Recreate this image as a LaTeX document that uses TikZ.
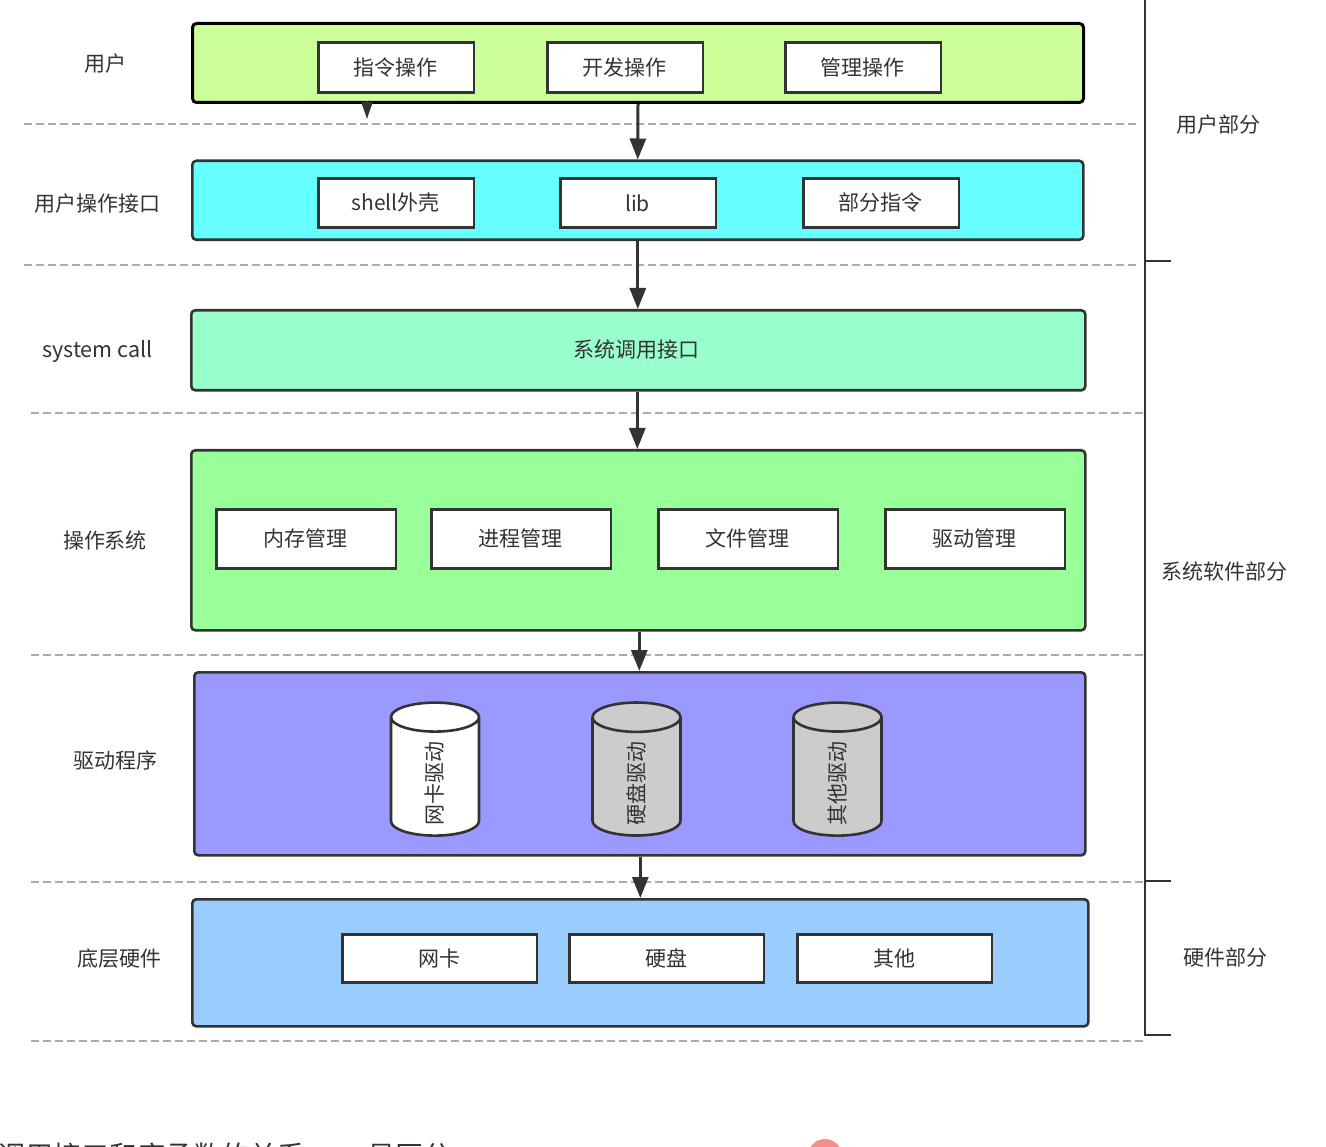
\documentclass[tikz,border=0pt]{standalone}
\usepackage{fontspec}
\setmainfont{Noto Sans CJK SC}
\usetikzlibrary{shapes.geometric,arrows.meta}
\definecolor{ink}{HTML}{333333}
\definecolor{dashgray}{HTML}{ABABAB}
\tikzset{
  x=1pt,y=-1pt,
  panel/.style={draw=ink,line width=2.6pt,rounded corners=4pt,anchor=north west,inner sep=0pt},
  item/.style={draw=ink,line width=2.6pt,fill=white,text=ink,font=\fontsize{21}{24}\selectfont,inner sep=0pt,anchor=north west},
  lab/.style={text=ink,font=\fontsize{21}{24}\selectfont,inner sep=0pt},
  sep/.style={dashgray,line width=1.4pt,dash pattern=on 8pt off 4pt},
  flow/.style={ink,line width=3pt,-{Triangle[length=21pt,width=16pt]}},
  bracket/.style={ink,line width=2.8pt},
  drum/.style={cylinder,rotate=90,draw=ink,line width=2.6pt,aspect=1.5,minimum width=88pt,minimum height=133pt,inner sep=0pt,cylinder uses custom fill,text=ink,font=\fontsize{21}{24}\selectfont}
}
\begin{document}
\begin{tikzpicture}
\useasboundingbox[fill=white] (0,0) rectangle (1326,1147);
% separators
\coordinate (s1a) at (24,124); \coordinate (s1b) at (1137,124);
\coordinate (s2a) at (24,265); \coordinate (s2b) at (1137,265);
\coordinate (s3a) at (31,413); \coordinate (s3b) at (1145,413);
\coordinate (s4a) at (31,655); \coordinate (s4b) at (1145,655);
\coordinate (s5a) at (31,882); \coordinate (s5b) at (1145,882);
\coordinate (s6a) at (31,1041); \coordinate (s6b) at (1145,1041);
\foreach \n in {1,...,6} \draw[sep] (s\n a) -- (s\n b);
% panels
\node[panel,fill={rgb,255:red,204;green,255;blue,153},draw=black,line width=3pt,minimum width=891pt,minimum height=79pt] (user) at (191,22) {};
\node[panel,fill={rgb,255:red,102;green,255;blue,255},minimum width=891pt,minimum height=79pt] (api) at (191,159.5) {};
\node[panel,fill={rgb,255:red,153;green,255;blue,204},minimum width=894pt,minimum height=80pt] (sys) at (190,309) {};
\node[panel,fill={rgb,255:red,153;green,255;blue,153},minimum width=894pt,minimum height=180pt] (os) at (190,449) {};
\node[panel,fill={rgb,255:red,153;green,153;blue,255},minimum width=891pt,minimum height=183pt] (drv) at (193,671) {};
\node[panel,fill={rgb,255:red,153;green,204;blue,255},minimum width=896pt,minimum height=127pt] (hw) at (191,898) {};
% flow arrows
\coordinate (t0) at (367,119);
\coordinate (t1) at (367,101);
\draw[ink,line width=2.2pt,-{Triangle[length=17pt,width=11pt]}] (t1) -- (t0);
\draw[flow] (user.south) -- (api.north);
\draw[flow] (api.south) -- ([xshift=-0.5pt]sys.north);
\draw[flow] ([xshift=-1pt]sys.south) -- ([xshift=-1pt]os.north);
\draw[flow] ([xshift=1pt]os.south) -- ([xshift=-0.5pt]drv.north);
\draw[flow] ([xshift=0.5pt]drv.south) -- ([xshift=0pt]hw.north);
% items
\foreach \nm/\px/\py/\w/\h/\tx in {
 a1/317/41/155.5/50/指令操作, a2/546/41/155.5/50/开发操作, a3/784/41/155.5/50/管理操作,
 b1/317/177/155.5/49/shell外壳, b2/559/177/155.5/49/lib, b3/802/177/155.5/49/部分指令,
 c1/215/508/179.5/59/内存管理, c2/430/508/179.5/59/进程管理, c3/657/508/179.5/59/文件管理, c4/884/508/179.5/59/驱动管理,
 d1/341/933/194.5/48/网卡, d2/568/933/194.5/48/硬盘, d3/796/933/194.5/48/其他}
 \node[item,minimum width=\w pt,minimum height=\h pt] (\nm) at (\px,\py) {\hspace*{-1pt}\tx};
\node[lab] (systxt) at (636,350) {系统调用接口};
% drums
\node[drum,cylinder body fill=white,cylinder end fill=white] (n1) at (435,777) {\hspace*{-12pt}网卡驱动};
\node[drum,cylinder body fill=black!20,cylinder end fill=black!20] (n2) at (636.5,777) {\hspace*{-12pt}硬盘驱动};
\node[drum,cylinder body fill=black!20,cylinder end fill=black!20] (n3) at (837.5,777) {\hspace*{-12pt}其他驱动};
% left labels
\node[lab] (l1) at (105.5,64) {用户};
\node[lab] (l2) at (97.5,203.5) {用户操作接口};
\node[lab,font=\fontsize{21.5}{24}\selectfont] (l3) at (97.5,351) {system call};
\node[lab] (l4) at (105,540) {操作系统};
\node[lab] (l5) at (115.5,760) {驱动程序};
\node[lab] (l6) at (119.5,958.5) {底层硬件};
% right labels
\node[lab] (r1) at (1218.5,124.5) {用户部分};
\node[lab] (r2) at (1224.5,572) {系统软件部分};
\node[lab] (r3) at (1225,958) {硬件部分};
% bracket
\coordinate (bt) at (1145,0); \coordinate (bb) at (1145,1035);
\draw[bracket] (bt) -- (bb) -- (1171,1035);
\draw[bracket] (1145,261) -- (1171,261);
\draw[bracket] (1145,881) -- (1171,881);
% cut-off text at the bottom
\begin{scope}
\clip (0,0) rectangle (1326,1147);
\node[anchor=west,inner sep=0pt,text=ink,font=\fontsize{28}{32}\selectfont] (cut1) at (-3,1156) {调用接口和库函数的关系};
\node[anchor=west,inner sep=0pt,text=ink,font=\fontsize{28}{32}\selectfont] (cut2) at (367,1156) {易区分};
\fill[fill={rgb,255:red,242;green,143;blue,138}] (825,1156) circle (17);
\end{scope}
\end{tikzpicture}
\end{document}
